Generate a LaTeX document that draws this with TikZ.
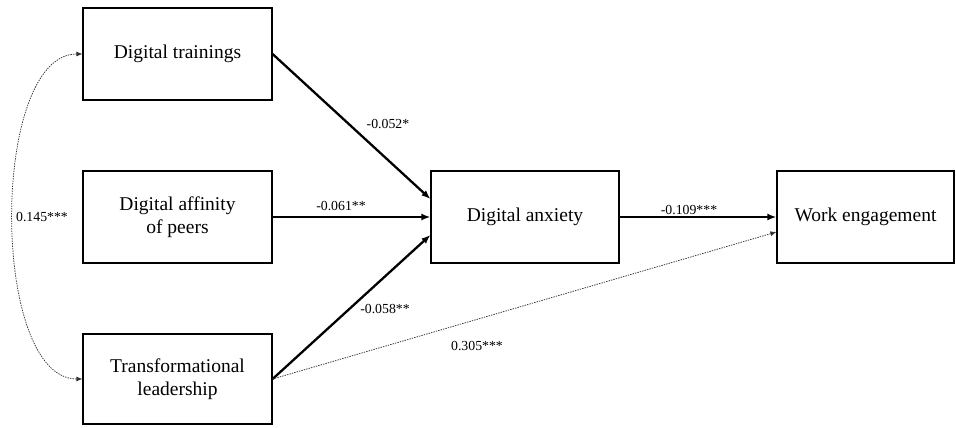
\documentclass[tikz,border=0pt]{standalone}
\usepackage{fontspec}
\setmainfont{Liberation Serif}
\usetikzlibrary{arrows.meta,calc}
\begin{document}
\begin{tikzpicture}[x=1pt,y=-1pt,
  box/.style={draw,line width=1.2pt,minimum width=189pt,minimum height=92pt,align=center,font=\fontsize{19.5}{22.5}\selectfont,inner sep=0pt},
  path/.style={line width=2.3pt,-{Latex[length=9pt,width=7pt]}},
  dotpath/.style={line width=0.75pt,dash pattern=on 1.4pt off 1.1pt,draw=black!80,-{Latex[length=6pt,width=5pt]}},
  lab/.style={font=\fontsize{13.8}{16}\selectfont,inner sep=0pt}]
\useasboundingbox (0,0) rectangle (956,428);
\node[box] (dt) at (177.5,54) {Digital trainings};
\node[box] (da) at (177.5,217) {Digital affinity\\of peers};
\node[box,minimum height=90pt] (tl) at (177.5,379) {Transformational\\leadership};
\node[box,minimum width=188pt] (ax) at (525,217) {Digital anxiety};
\node[box,minimum width=177pt] (we) at (865.5,217) {Work engagement};
\draw[path] (dt.east) -- ([yshift=18pt]ax.west);
\draw[path] (da.east) -- (ax.west);
\draw[path] (tl.east) -- ([yshift=-18pt]ax.west);
\draw[path] (ax.east) -- (we.west);
\draw[dotpath] (tl.east) -- ([yshift=-15pt]we.west);
\draw[dotpath,{Latex[length=6pt,width=5pt]}-{Latex[length=6pt,width=5pt]}] (dt.west) to[out=180,in=180,looseness=0.73] (tl.west);
\node[lab] (l1) at (388,124) {-0.052*};
\node[lab] (l2) at (341,206) {-0.061**};
\node[lab] (l3) at (689,210) {-0.109***};
\node[lab] (l4) at (385,309) {-0.058**};
\node[lab] (l5) at (477,346) {0.305***};
\node[lab] (l6) at (42,217) {0.145***};
\end{tikzpicture}
\end{document}
